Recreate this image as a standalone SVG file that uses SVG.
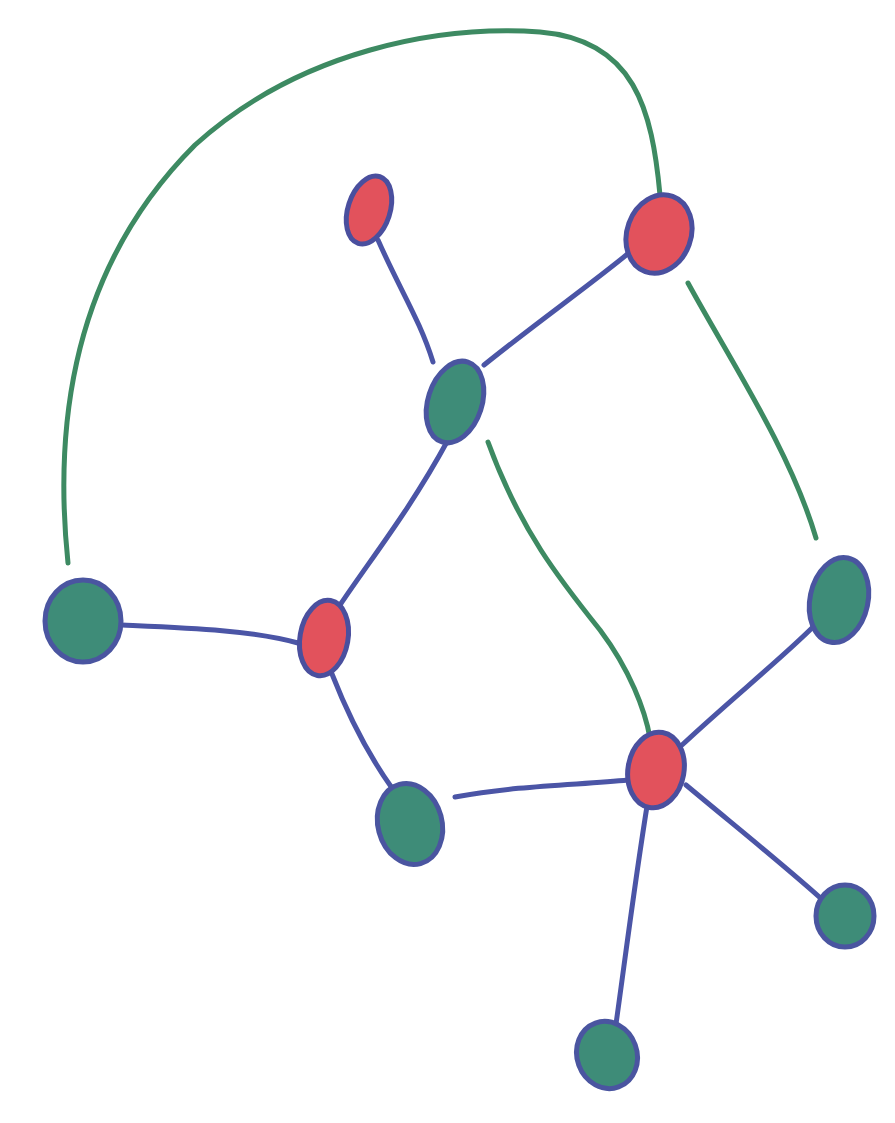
<svg xmlns="http://www.w3.org/2000/svg" width="895" height="1123" viewBox="0 0 895 1123">
<style>
.edge{fill:none;stroke:#4b55a6;stroke-width:5;stroke-linecap:round}
.link{fill:none;stroke:#3d8a62;stroke-width:5;stroke-linecap:round}
.red{fill:#e2525c;stroke:#4a4f9e;stroke-width:5}
.green{fill:#3e8c78;stroke:#4a55a0;stroke-width:5}
</style>
<rect width="895" height="1123" fill="#ffffff"/>
<g id="connectors">
<path class="link" d="M68,563 C52,410 80,260 195,145 C300,50 440,25 540,32 C635,40 652,110 660,195"/>
<path class="link" d="M688,283 C730,360 790,450 816,538"/>
<path class="link" d="M488,442 C520,530 560,580 600,630 C630,670 645,710 650,738"/>
<path class="edge" d="M378,240 C400,290 420,320 433,362"/>
<path class="edge" d="M484,365 C540,320 590,285 630,252"/>
<path class="edge" d="M448,440 C410,510 370,560 340,605"/>
<path class="edge" d="M122,625 C190,628 250,630 298,643"/>
<path class="edge" d="M332,674 C350,720 372,760 392,788"/>
<path class="edge" d="M455,797 C520,785 580,785 628,780"/>
<path class="edge" d="M682,745 C730,700 780,660 815,625"/>
<path class="edge" d="M686,785 C740,830 790,870 826,903"/>
<path class="edge" d="M648,800 C635,880 625,960 616,1024"/>
</g>
<g id="n1"><ellipse class="red" cx="369" cy="210" rx="21" ry="35" transform="rotate(18 369 210)"/></g>
<g id="n2"><ellipse class="red" cx="659" cy="234" rx="32" ry="40" transform="rotate(20 659 234)"/></g>
<g id="n3"><ellipse class="green" cx="455" cy="402" rx="27" ry="42" transform="rotate(18 455 402)"/></g>
<g id="n4"><ellipse class="green" cx="83" cy="621" rx="38" ry="41"/></g>
<g id="n5"><ellipse class="red" cx="324" cy="638" rx="24" ry="38" transform="rotate(10 324 638)"/></g>
<g id="n6"><ellipse class="green" cx="839" cy="600" rx="29" ry="43" transform="rotate(12 839 600)"/></g>
<g id="n7"><ellipse class="green" cx="410" cy="824" rx="32" ry="41" transform="rotate(-15 410 824)"/></g>
<g id="n8"><ellipse class="red" cx="656" cy="770" rx="28" ry="38" transform="rotate(10 656 770)"/></g>
<g id="n9"><ellipse class="green" cx="845" cy="916" rx="29" ry="31"/></g>
<g id="n10"><ellipse class="green" cx="607" cy="1055" rx="30" ry="34" transform="rotate(-20 607 1055)"/></g>
</svg>
